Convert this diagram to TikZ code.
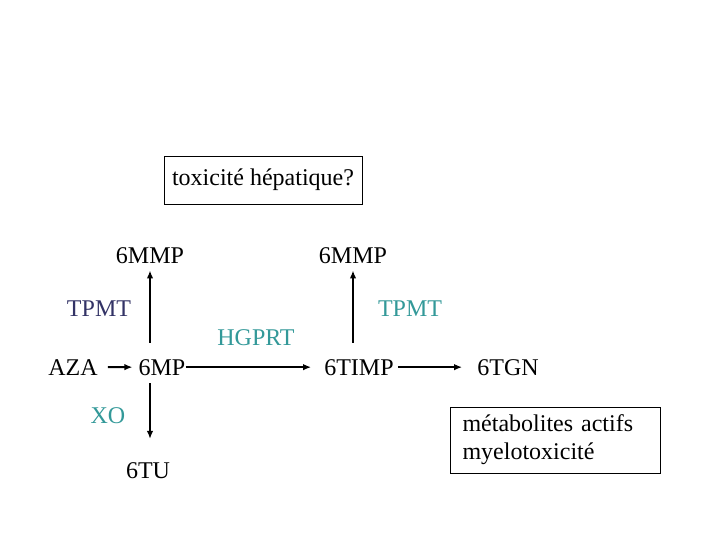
\documentclass[tikz,border=0pt]{standalone}
\usepackage{fontspec}
\setmainfont{Liberation Serif}
\usetikzlibrary{arrows.meta}
\definecolor{tealc}{HTML}{339999}
\definecolor{slatec}{HTML}{333366}
\begin{document}
\begin{tikzpicture}[x=1pt,y=-1pt,
  lbl/.style={inner sep=0pt, anchor=base, font=\fontsize{24}{28}\selectfont},
  arr/.style={line width=2pt, -{Latex[length=8pt,width=6.5pt]}},
  boxed/.style={draw, line width=0.9pt, inner sep=0pt, font=\fontsize{24}{28}\selectfont}]
\useasboundingbox (0,0) rectangle (720,540);
\fill[white] (0,0) rectangle (720,540);
% boxes
\node[boxed, minimum width=198pt, minimum height=48pt, text height=16pt, text depth=5pt] (tox) at (263,180) {toxicité hépatique?};
\node[boxed, minimum width=210pt, minimum height=66pt, text width=185pt, align=left] (meta) at (555,440) {métabolites actifs\\myelotoxicité};
% labels
\node[lbl] (mmp1) at (150,263) {6MMP};
\node[lbl] (mmp2) at (353,263) {6MMP};
\node[lbl, text=slatec] (tpmt1) at (99,316) {TPMT};
\node[lbl, text=tealc] (tpmt2) at (410,316) {TPMT};
\node[lbl, text=tealc] (hgprt) at (256,345) {HGPRT};
\node[lbl] (aza) at (73,375) {AZA};
\node[lbl] (mp) at (162,375) {6MP};
\node[lbl] (timp) at (359,375) {6TIMP};
\node[lbl] (tgn) at (508,375) {6TGN};
\node[lbl, text=tealc] (xo) at (108,423) {XO};
\node[lbl] (tu) at (148,478) {6TU};
% connectors
\draw[arr, shorten <=10pt, shorten >=6pt] (aza.east) -- (mp.west);
\draw[arr, shorten >=13pt] (mp.east) -- (timp.west);
\draw[arr, shorten <=4pt, shorten >=15pt] (timp.east) -- (tgn.west);
\draw[arr, shorten <=16pt, shorten >=7pt] (mp.north -| mmp1.south) -- (mmp1.south);
\draw[arr, shorten <=16pt, shorten >=7pt] (timp.north -| mmp2.south) -- (mmp2.south);
\draw[arr, shorten <=8pt, shorten >=23pt] (mp.south -| mmp1.south) -- (tu.north -| mmp1.south);
\end{tikzpicture}
\end{document}
